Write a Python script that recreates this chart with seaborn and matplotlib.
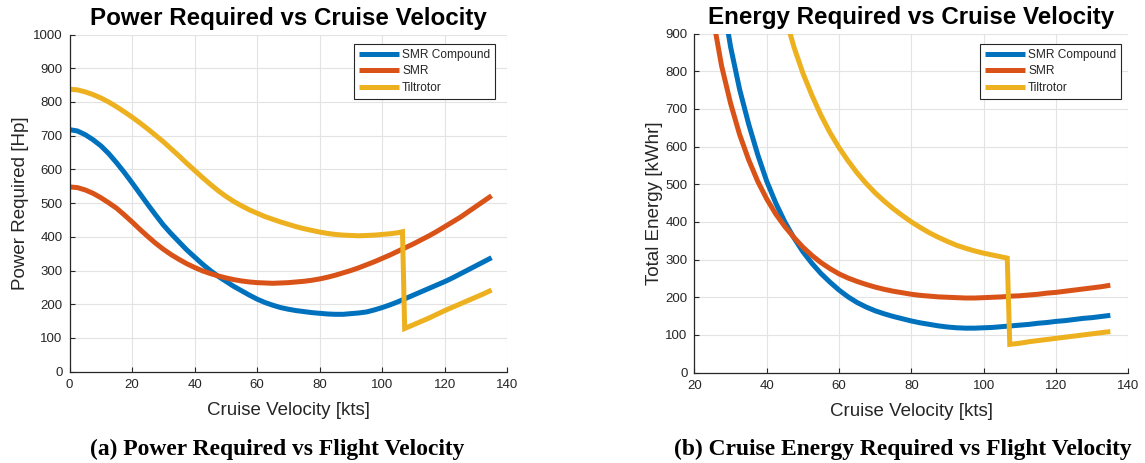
import numpy as np
import pandas as pd
import matplotlib
matplotlib.use("Agg")
import matplotlib.pyplot as plt
import seaborn as sns
from matplotlib.lines import Line2D

# ---------------- data ----------------
series_names = ["SMR Compound", "SMR", "Tiltrotor"]
series_colors = ["#0072BD", "#D95319", "#EDB120"]

# Power required [Hp] vs cruise velocity [kts]
power_v = [0, 2.5, 5, 7.5, 10, 12.5, 15, 17.5, 20, 22.5, 25, 27.5, 30, 32.5, 35, 37.5,
           40, 42.5, 45, 47.5, 50, 52.5, 55, 57.5, 60, 62.5, 65, 67.5, 70, 72.5, 75,
           77.5, 80, 82.5, 85, 87.5, 90, 92.5, 95, 97.5, 100, 102.5, 105, 107.5, 110,
           112.5, 115, 117.5, 120, 122.5, 125, 127.5, 130, 132.5, 135]
power_smr_compound = [718, 714, 703, 688, 670, 647, 620, 591, 560, 528, 496, 465, 435, 409,
                      385, 361, 340, 319, 300, 283, 268, 253, 240, 227, 215, 205, 197, 190,
                      185, 181, 178, 175, 173, 171, 170, 170, 172, 174, 177, 183, 190, 198,
                      207, 217, 227, 237, 247, 257, 267, 278, 290, 302, 314, 326, 338]
power_smr = [548, 546, 539, 529, 516, 501, 485, 465, 444, 422, 401, 381, 363, 347, 333, 320,
             309, 299, 291, 284, 278, 273, 269, 266, 264, 263, 262, 263, 264, 266, 268, 271,
             275, 280, 286, 293, 300, 308, 317, 326, 336, 346, 357, 368, 379, 391, 403, 416,
             430, 444, 458, 474, 490, 506, 522]
power_tilt_v = [0, 2.5, 5, 7.5, 10, 12.5, 15, 17.5, 20, 22.5, 25, 27.5, 30, 32.5, 35, 37.5,
                40, 42.5, 45, 47.5, 50, 52.5, 55, 57.5, 60, 62.5, 65, 67.5, 70, 72.5, 75,
                77.5, 80, 82.5, 85, 87.5, 90, 92.5, 95, 97.5, 100, 102.5, 105, 106.5,
                107.2, 110, 112.5, 115, 117.5, 120, 122.5, 125, 127.5, 130, 132.5, 135]
power_tiltrotor = [838, 836, 830, 822, 812, 800, 786, 771, 755, 738, 720, 701, 682, 661, 640,
                   618, 597, 576, 556, 537, 520, 505, 492, 480, 470, 460, 452, 444, 437, 430,
                   424, 419, 414, 410, 407, 405, 404, 403, 404, 405, 407, 409, 412, 415,
                   128, 139, 149, 159, 170, 181, 191, 201, 211, 221, 231, 242]

# Total cruise energy [kWhr] vs cruise velocity [kts]
energy_v = [22.5, 25, 27.5, 30, 32.5, 35, 37.5, 40, 42.5, 45, 47.5, 50, 52.5, 55, 57.5, 60,
            62.5, 65, 67.5, 70, 72.5, 75, 77.5, 80, 82.5, 85, 87.5, 90, 92.5, 95, 97.5, 100,
            102.5, 105, 107.5, 110, 112.5, 115, 117.5, 120, 122.5, 125, 127.5, 130, 132.5, 135]
energy_smr_compound = [1400, 1190, 1010, 865, 752, 660, 579, 508, 450, 400, 358, 321, 290,
                       263, 240, 219, 201, 186, 174, 164, 156, 149, 143, 137, 132, 128, 124,
                       121, 119, 118, 118, 119, 120, 122, 124, 126, 128, 131, 133, 136, 138,
                       141, 144, 146, 149, 152]
energy_smr = [1120, 950, 815, 715, 632, 565, 508, 461, 421, 388, 359, 333, 311, 292, 276, 262,
              251, 242, 234, 227, 221, 216, 212, 208, 205, 203, 201, 200, 199, 198, 198, 199,
              200, 201, 203, 204, 206, 208, 211, 213, 216, 219, 222, 225, 228, 232]
energy_tilt_v = [42.5, 45, 47.5, 50, 52.5, 55, 57.5, 60, 62.5, 65, 67.5, 70, 72.5, 75, 77.5,
                 80, 82.5, 85, 87.5, 90, 92.5, 95, 97.5, 100, 102.5, 105, 106.5,
                 107.2, 110, 112.5, 115, 117.5, 120, 122.5, 125, 127.5, 130, 132.5, 135]
energy_tiltrotor = [1050, 950, 865, 795, 736, 683, 637, 597, 562, 530, 502, 477, 455, 435,
                    417, 400, 385, 371, 359, 348, 338, 330, 323, 317, 312, 307, 304,
                    75, 78, 82, 85, 88, 91, 94, 97, 100, 103, 106, 109]

power_xticks = [0, 20, 40, 60, 80, 100, 120, 140]
power_yticks = [0, 100, 200, 300, 400, 500, 600, 700, 800, 900, 1000]
energy_xticks = [20, 40, 60, 80, 100, 120, 140]
energy_yticks = [0, 100, 200, 300, 400, 500, 600, 700, 800, 900]


def long_frame(xs, ys):
    rows = []
    for name, x, y in zip(series_names, xs, ys):
        for a, b in zip(x, y):
            rows.append({"v": a, "val": b, "config": name})
    return pd.DataFrame(rows)


df_power = long_frame([power_v, power_v, power_tilt_v],
                      [power_smr_compound, power_smr, power_tiltrotor])
df_energy = long_frame([energy_v, energy_v, energy_tilt_v],
                       [energy_smr_compound, energy_smr, energy_tiltrotor])

# ---------------- style ----------------
sns.set_theme(style="white")
plt.rcParams["font.family"] = ["Liberation Sans", "DejaVu Sans"]
plt.rcParams["axes.edgecolor"] = "#262626"
plt.rcParams["xtick.color"] = "#262626"
plt.rcParams["ytick.color"] = "#262626"

fig = plt.figure(figsize=(11.45, 4.63), dpi=100)
W, H = 1145, 463
ax1 = fig.add_axes([69.6 / W, (H - 371.6) / H, 437.6 / W, 337.0 / H])
ax2 = fig.add_axes([694.4 / W, (H - 372.6) / H, 434.0 / W, 339.0 / H])

palette = dict(zip(series_names, series_colors))


def style_axes(ax, xlim, ylim, xticks, yticks, title, ylabel, ylab_x):
    ax.set_xlim(*xlim)
    ax.set_ylim(*ylim)
    ax.set_xticks(xticks)
    ax.set_yticks(yticks)
    ax.grid(True, color="#E3E3E3", linewidth=0.8)
    ax.set_axisbelow(True)
    for s in ["top", "right"]:
        ax.spines[s].set_visible(False)
    for s in ["left", "bottom"]:
        ax.spines[s].set_linewidth(0.9)
        ax.spines[s].set_color("#262626")
    ax.tick_params(axis="both", direction="in", length=3.5, width=0.8,
                   labelsize=9.5, labelcolor="#262626", pad=5,
                   bottom=True, left=True)
    ax.set_title(title, fontsize=17.4, fontweight="bold", color="black", pad=7)
    ax.set_xlabel("Cruise Velocity [kts]", fontsize=13.5, color="#262626", labelpad=8)
    ax.set_ylabel(ylabel, fontsize=13.5, color="#262626")
    ax.yaxis.set_label_coords(ylab_x, 0.5)


for ax, df in [(ax1, df_power), (ax2, df_energy)]:
    sns.lineplot(data=df, x="v", y="val", hue="config", hue_order=series_names,
                 palette=palette, estimator=None, units="config", sort=False,
                 linewidth=3.6, ax=ax, legend=False)
    for ln in ax.get_lines():
        ln.set_solid_capstyle("butt")
        ln.set_solid_joinstyle("miter")

style_axes(ax1, (0, 140), (0, 1000), power_xticks, power_yticks,
           "Power Required vs Cruise Velocity", "Power Required [Hp]", -0.092)
style_axes(ax2, (20, 140), (0, 900), energy_xticks, energy_yticks,
           "Energy Required vs Cruise Velocity", "Total Energy [kWhr]", -0.073)

handles = [Line2D([], [], color=c, linewidth=3.6, solid_capstyle="butt") for c in series_colors]
for ax, right_px in [(ax1, 495), (ax2, 1121)]:
    leg = ax.legend(handles, series_names, loc="upper right",
                    bbox_to_anchor=(right_px / W, (H - 44) / H),
                    bbox_transform=fig.transFigure, borderaxespad=0,
                    fontsize=8.6, handlelength=3.4, handletextpad=0.25,
                    labelspacing=0.38, borderpad=0.4, fancybox=False,
                    frameon=True, framealpha=1)
    leg.get_frame().set_edgecolor("#262626")
    leg.get_frame().set_linewidth(0.8)
    for t in leg.get_texts():
        t.set_color("#262626")

cap_font = dict(family=["Liberation Serif", "DejaVu Serif"], fontweight="bold",
                fontsize=16.9, color="black", ha="center", va="baseline")
fig.text(277 / W, 8 / H, "(a) Power Required vs Flight Velocity", **cap_font)
fig.text(903 / W, 8 / H, "(b) Cruise Energy Required vs Flight Velocity", **cap_font)

fig.savefig("out.png", dpi=100)
